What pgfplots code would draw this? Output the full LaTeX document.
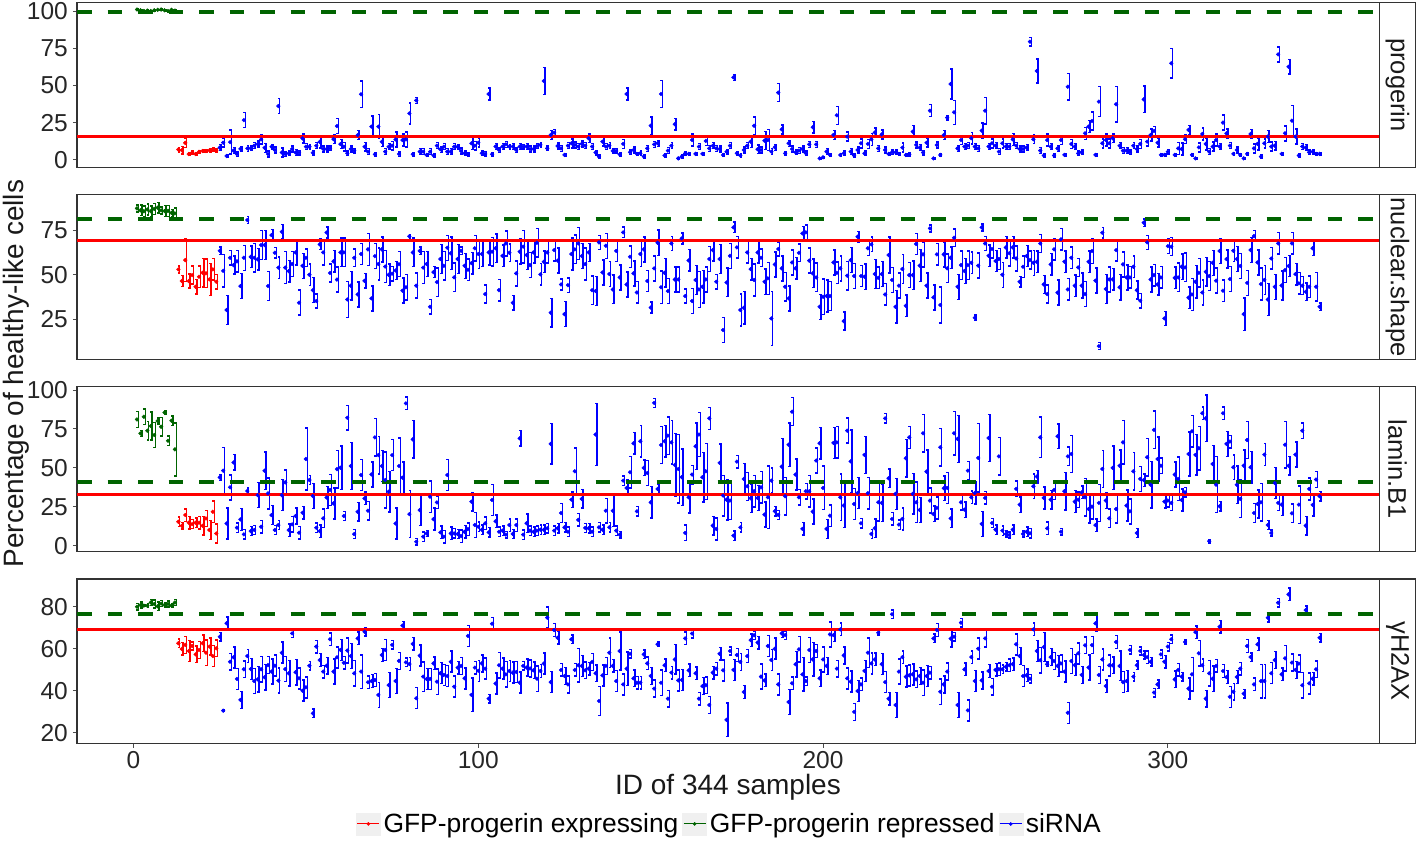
\documentclass[border=0pt]{standalone}
\usepackage{fontspec}
\setmainfont{Liberation Sans}
\usepackage{pgfplots}
\usepackage{pgfplotstable}
\pgfplotsset{compat=1.18}
\definecolor{dgreen}{HTML}{006400}

% ---------- panel 1: progerin ----------
\pgfplotstableread[row sep=\\]{v e\\ 101 0.5\\ 100.5 0.5\\ 100 0.4\\ 100.3 0.5\\ 100 0.4\\ 100.5 0.5\\ 100.8 0.4\\ 101 0.5\\ 100.5 0.4\\ 100 0.5\\ 100.8 0.4\\ 100.3 0.5\\}\pAg
\pgfplotstableread[row sep=\\]{v e\\ 7 1.5\\ 6.5 2.5\\ 11.5 3\\ 4 1\\ 5 1\\ 4 0.8\\ 5.5 1\\ 6 1\\ 6 1\\ 6.5 1\\ 7 1\\ 6.5 1\\}\pAr
\pgfplotstableread[row sep=\\]{v e\\
8.3 2\\ 11.6 3\\ 2.7 1\\ 12 8\\ 6.3 2\\ 4.0 1.5\\ 7.4 1.5\\ 26.8 5\\ 7.8 2\\ 7.8 1.5\\
9.6 2\\ 10.7 2\\ 13.8 3\\ 8.2 3\\ 4 2\\ 8.9 1.5\\ 6.7 2\\ 36.2 5\\ 5 3\\ 4 1.5\\
4.5 1.5\\ 7.4 2\\ 5 2\\ 5 1.5\\ 14.5 3\\ 8.9 2\\ 8.9 1.5\\ 4.8 1.5\\ 9.6 2\\ 12.2 4\\
7.4 2\\ 7.4 2\\ 7.8 1.5\\ 14 3\\ 22.8 5\\ 10.7 3\\ 8.9 3\\ 4.5 1.5\\ 7.4 2\\ 6.3 1.5\\
16.7 3\\ 44.1 9\\ 8.9 3\\ 5.6 2\\ 22.4 7\\ 3.8 1\\ 22.4 8\\ 12.2 3\\ 5.6 2\\ 8.9 2\\
9.6 3\\ 13.8 5\\ 4 1.5\\ 13.4 4\\ 13.8 5\\ 31.3 7\\ 3.8 1\\ 40 2\\ 5.6 2\\ 5.6 2\\
3.4 1\\ 5.6 2\\ 3 1\\ 9.6 2\\ 7.2 2\\ 8.9 2\\ 5.6 2\\ 5.6 2\\ 8.9 2\\ 8.9 1.5\\
6 2\\ 4.5 1.5\\ 3.8 1\\ 11.2 4\\ 9.6 3\\
11.6 3\\ 4.5 1.5\\ 4.1 1.5\\ 44.3 4\\ 3.8 1\\ 9 2\\ 6.7 1.5\\ 9 2\\ 10.5 2\\ 9 1.5\\
9 2\\ 6.7 1.5\\ 9 2\\ 9 1.5\\ 9 2\\ 7.4 2\\ 7.4 2\\ 9.4 1.5\\ 10.1 1.5\\ 53 9\\
7.8 1.5\\ 16.8 3\\ 18.4 2\\ 9.4 2\\ 7.8 2\\ 3.4 1\\ 9.6 2\\ 11.2 3\\ 10.1 2\\ 9 2\\
10.8 2\\ 9.6 2\\ 14.6 3\\ 9 2\\ 5 1.5\\ 2.3 1\\ 12.3 3\\ 9 2\\ 9.6 2\\ 6.1 1.5\\
6.1 1.5\\ 3.8 1\\ 10.8 3\\ 44.3 4\\ 5.2 1.5\\ 6.7 2\\ 4.1 1\\ 4.5 1.5\\ 2.3 1\\ 7.8 2\\
23 6\\ 10.5 2\\ 11.2 2\\ 44.3 9\\ 3 1\\ 6.3 2\\ 9.6 2\\ 24 4\\ 1.1 0.5\\ 2.3 1\\
4.5 1\\ 4.1 1\\ 13.4 4\\ 4.1 1\\ 9 2\\ 4.1 1\\ 12.8 3\\ 7.8 2\\ 9.6 2\\ 7.8 2\\
7.4 2\\ 3.4 1\\ 5.6 1.5\\ 9.6 2\\ 55.5 2\\ 4.5 1\\ 3 1\\ 6.7 2\\ 9.6 2\\ 12.3 4\\
23 6\\ 7.2 3\\ 6.7 2\\ 13 6\\ 13.4 7\\ 5.6 2\\ 8.5 2\\ 45.2 6\\ 20.6 3\\ 4.5 1\\
11.2 2\\ 7.4 2\\ 5.2 1.5\\ 6.3 2\\ 7.4 2\\ 4.5 1.5\\ 10.5 2\\ 22 4\\ 10.5 2\\ 1.1 0.5\\
1.8 0.5\\ 5.6 2\\ 3.4 1\\ 16.8 3\\ 30 6\\ 3.4 1\\ 4.5 1.5\\ 15.7 3\\ 5.6 2\\ 3 1\\
6.7 2\\ 11.2 3\\ 4.5 1.5\\ 10.8 3\\ 13.9 4\\ 18.4 3\\ 7.8 2\\ 17.2 3\\ 6.7 2\\ 4.1 1\\
5.2 1.5\\ 5.2 1.5\\ 4.1 1\\ 8.3 3\\ 3.4 1\\ 3.8 1\\ 19 4\\ 10.1 2\\ 8.3 2\\ 5 1.5\\
11.6 3\\ 33.1 4\\ 1.1 0.5\\ 10.1 2\\ 3.4 1\\ 16.8 3\\ 28.4 1.5\\ 51 10\\ 32 8\\ 7.8 2\\
13.4 3\\ 9 2\\ 9.6 2\\ 14.6 4\\ 9 2\\ 7.8 2\\ 19.7 5\\ 33.1 9\\ 9 2\\ 11.2 3\\
9.6 2\\ 5.6 2\\ 11.2 3\\ 9 2\\ 9 2\\ 13.9 4\\ 9.6 2\\ 7.4 2\\ 7.4 2\\ 8.3 2\\
79.4 3\\ 13.9 3\\ 59.7 8\\ 6.3 2\\ 3 1\\ 13.4 4\\ 9 2\\ 3 1\\ 7.8 2\\ 13.4 3\\
3.4 1\\ 49.2 9\\ 10.8 3\\ 9 2\\ 4.5 1.5\\ 5.2 1.5\\ 17.9 4\\ 22.4 4\\ 26.2 6\\ 3.4 1\\
39.2 10\\ 11.2 3\\ 13.4 4\\
11.2 3\\ 14.6 3\\ 37.4 12\\ 9.6 2\\ 6.3 2\\ 6.3 2\\ 5.2 1.5\\ 9.6 2\\ 7.4 2\\ 10.8 3\\
40.7 9\\ 12.3 3\\ 16.8 4\\ 19.5 3\\ 11.6 3\\ 3.4 1\\ 3.4 1\\ 5.6 1.5\\ 64.9 10\\ 3.4 1\\
7.8 4\\ 7.4 4\\ 13.9 3\\ 20.2 3\\ 3.4 1\\ 1.1 0.5\\ 8.5 3\\ 17.5 4\\ 10.8 4\\ 5.6 2\\
9 3\\ 13.4 4\\ 9 2\\ 25.1 5\\ 17.9 3\\ 9.6 2\\ 4.1 1\\ 6.7 2\\ 3.4 1\\ 1.1 0.5\\
4.1 1\\ 17.5 3\\ 7.8 3\\ 10.8 4\\ 2.3 1\\ 11.2 3\\ 15.7 4\\ 9 3\\ 9.6 3\\ 70.9 5\\
4.1 1\\ 17.9 5\\ 62.6 5\\ 26.4 10\\ 15.7 5\\ 3 1\\ 9 2\\ 8.3 2\\ 5.2 1.5\\ 5.6 1.5\\
4.1 1\\ 4.1 1\\
}\pAb

% ---------- panel 2: nuclear.shape ----------
\pgfplotstableread[row sep=\\]{v e\\ 87.1 2\\ 86 3\\ 85.5 3\\ 86.5 3\\ 85.5 3\\ 86.8 3\\ 87.5 3\\ 86 2\\ 85.6 3\\ 85.7 3\\ 84.6 2\\ 84.3 3\\}\pBg
\pgfplotstableread[row sep=\\]{v e\\ 53 2\\ 46.5 3\\ 58.2 12\\ 46.5 4\\ 49.8 5\\ 43.3 4\\ 48.9 6\\ 51.1 8\\ 50.8 8\\ 47.4 9\\ 53 6\\ 46.1 4\\}\pBr
\pgfplotstableread[row sep=\\]{v e\\
63.4 2\\ 52.2 9\\ 30.3 8\\ 59.5 4\\ 55.4 5\\ 57.5 6\\ 43.7 7\\ 59.5 7\\ 80.6 2\\ 60 6\\
59.5 8\\ 58.6 6\\ 66.6 8\\ 66.6 8\\ 43.7 8\\ 72.2 3\\ 62.3 3\\ 54 6\\ 74 4\\ 54 9\\
52 6\\ 56 7\\ 62.5 7\\ 34.4 7\\ 55 7\\ 59.5 5\\ 50 6\\ 41.4 7\\ 35.3 4\\ 67 3\\
62.5 7\\ 73.6 3\\ 51 5\\ 57.5 6\\ 47.3 7\\ 62.5 8\\ 62.5 8\\ 36.2 10\\ 43.9 8\\ 59.5 5\\
39 7\\ 61.6 6\\ 46.6 4\\ 64.2 9\\ 36.8 7\\ 60.4 7\\ 56 9\\ 64.2 7\\ 54.6 9\\ 50 6\\
50.6 4\\ 52.4 5\\ 55.9 7\\ 41.1 7\\ 43 7\\ 71.5 1\\ 62.5 8\\ 43.9 7\\ 63.4 2\\ 54 9\\
56 7\\ 32.1 4\\ 51.5 3\\ 45.9 8\\ 58.8 8\\ 55 8\\ 65.1 7\\ 62 9\\ 48.6 8\\ 58.8 8\\
63.4 2\\ 55 7\\ 52.8 6\\ 56.5 6\\ 64.8 7\\ 61.6 8\\
61.6 7\\ 39.2 5\\ 62.5 7\\ 62.9 8\\ 64.8 8\\ 41.4 6\\ 60.6 6\\ 67.5 7\\ 62.3 5\\ 34.4 4\\
50.8 7\\ 62.9 7\\ 65.7 9\\ 61 8\\ 55.4 7\\ 62.5 6\\ 67.9 8\\ 50.2 6\\ 57.3 6\\ 62.5 6\\
28.8 8\\ 63.8 6\\ 57.9 7\\ 44.6 3\\ 28 7\\ 44.2 4\\ 61.6 9\\ 64.2 8\\ 67.5 9\\ 60.5 7\\
56 9\\ 62.5 5\\ 41.4 8\\ 40.9 8\\ 68.1 4\\ 51.3 7\\ 66.2 7\\ 50.4 7\\ 41.8 8\\ 63.3 6\\
48.5 7\\ 73.7 3\\ 44.6 7\\ 60.1 6\\ 50.8 7\\ 40.1 6\\ 61.6 7\\ 64.2 7\\ 46.5 6\\ 31.7 3\\
53.6 7\\ 67.9 7\\ 43 9\\ 51.1 8\\ 40.9 7\\ 67.5 4\\ 47.4 7\\ 47.4 7\\ 70.3 3\\ 38.1 4\\
58 6\\
35.3 7\\ 47.1 8\\ 41.8 10\\ 43.3 9\\ 47.4 7\\ 58.8 7\\ 63.8 6\\ 46.1 4\\ 58.8 8\\ 19.1 7\\
45.7 8\\ 60.6 7\\ 76.5 3\\ 65.3 6\\ 30.3 9\\ 31.6 9\\ 62.5 6\\ 53.2 6\\ 47.1 9\\ 62.5 6\\
59.5 5\\ 46.1 7\\ 48 9\\ 25.6 15\\ 55.8 7\\ 64.4 4\\ 53.6 7\\ 43.3 8\\ 36.8 7\\ 56.9 7\\
53.6 6\\ 62.3 5\\ 73.1 4\\ 73.7 4\\ 57.9 7\\ 50.8 8\\ 48.5 8\\ 32.1 7\\ 37.7 10\\ 38.1 9\\
38.1 8\\ 56.9 7\\ 51.1 6\\ 53.6 7\\ 24.1 5\\ 49.5 8\\ 58.2 7\\ 49.3 7\\ 71.3 3\\ 49.3 6\\
48.9 7\\ 64.8 4\\ 67 4\\ 50.4 8\\ 48.3 6\\ 50.4 7\\ 39 6\\ 61 10\\ 47.1 7\\ 32.1 9\\
43.9 7\\ 53.2 8\\ 32.7 6\\ 49.8 7\\ 49.8 8\\ 67.2 6\\ 55.1 9\\ 61.4 7\\ 43.9 7\\ 75.9 2\\
37.4 7\\ 61.4 6\\ 33.1 10\\ 61.4 7\\ 53.6 8\\ 59.5 6\\ 70.7 5\\ 43.3 7\\ 55.4 8\\ 52.1 7\\
55.4 8\\ 56.7 6\\ 26 1.5\\ 55.1 7\\ 76.5 2\\ 67.5 4\\ 60.6 6\\ 64.4 5\\ 57.7 6\\ 58.8 6\\
50 7\\
65.3 6\\ 62 7\\ 65.3 6\\ 59.1 7\\ 46.1 3\\ 54.5 6\\ 60.5 6\\ 58.2 5\\ 56.7 7\\ 57.3 6\\
67.5 5\\ 44.6 5\\ 39.2 5\\ 55.8 6\\ 64.2 6\\ 40 7\\ 69.8 6\\ 57.3 6\\ 41.8 6\\ 59.5 6\\
43.9 6\\ 54.1 5\\ 43.9 7\\ 39.2 7\\ 57.3 6\\ 63.3 7\\ 46.7 7\\ 10.1 2\\ 73.5 3\\ 42 8\\
47.4 7\\ 47.4 6\\ 63.8 6\\ 43 7\\ 55.8 7\\ 48.5 7\\ 48.5 6\\ 54.5 6\\ 41.4 5\\ 35.5 4\\
79.1 2\\ 68.1 4\\ 47.4 7\\ 49.8 6\\ 44.6 6\\ 48.5 6\\ 25.6 4\\ 66 4\\ 65.7 5\\ 48.3 6\\
48.5 8\\ 54.5 7\\ 54.1 8\\ 37.2 6\\ 39 9\\ 46.1 9\\ 51.1 8\\ 40.1 7\\ 51.7 8\\ 49.3 8\\
56.7 7\\ 46.7 7\\ 63.3 7\\ 41.1 6\\ 58.8 5\\ 47.6 7\\ 63.4 6\\ 58.8 7\\ 54.9 7\\ 28 9\\
45.5 7\\ 63.8 7\\ 71.6 3\\ 56.9 7\\ 44.8 9\\ 47.1 8\\ 36.2 9\\ 59.1 6\\ 43.3 7\\ 67.5 6\\
44 8\\
52.6 7\\ 54.9 6\\ 67.5 6\\ 50.4 6\\ 45.2 6\\ 43.9 5\\ 40.5 5\\ 43.3 6\\ 64.8 4\\ 43.3 8\\
32.1 2\\
}\pBb

% ---------- panel 3: lamin.B1 ----------
\pgfplotstableread[row sep=\\]{v e\\ 81.1 5\\ 72.1 2\\ 82.8 5\\ 73.9 6\\ 76.9 9\\ 71.1 8\\ 80.1 2\\ 76.4 6\\ 85.6 1\\ 67.4 3\\ 80.3 3\\ 61.9 17\\}\pCg
\pgfplotstableread[row sep=\\]{v e\\ 15.4 3\\ 12.8 2\\ 19.7 4\\ 14.8 4\\ 13.9 3\\ 14.8 3\\ 14.8 4\\ 12.8 6\\ 17.5 5\\ 10.1 6\\ 21.8 7\\ 7.9 6\\}\pCr
\pgfplotstableread[row sep=\\]{v e\\
43.9 2\\ 48.2 15\\ 14.3 10\\ 37.5 8\\ 53.5 5\\ 11.6 3\\ 16.9 7\\ 7.3 3\\ 35.1 2\\ 9.4 3\\
10.1 3\\ 32.5 8\\ 12.2 4\\ 48.2 12\\ 33.6 10\\ 19.7 6\\ 10.1 3\\ 13.3 3\\ 32.5 10\\ 40.7 8\\
10.1 4\\ 13.7 5\\ 19.1 5\\ 8.4 4\\ 21.2 4\\ 55.7 20\\ 42.2 3\\ 31.9 8\\ 11.6 3\\ 9.4 4\\
17.6 6\\ 31 7\\ 35.8 10\\ 27.2 10\\ 49.2 12\\ 50.1 14\\ 19.1 3\\ 82.2 8\\ 51.2 15\\ 7.5 3\\
21.8 6\\ 45.4 10\\ 30.4 4\\ 22.5 6\\ 45.8 8\\ 69.6 12\\ 58.2 12\\ 51.2 10\\ 42.2 18\\ 34.7 13\\
58.2 10\\ 14.3 10\\ 51.2 18\\ 43.7 10\\ 91.4 4\\ 20.3 15\\ 68.3 12\\ 2.6 2\\ 22.9 10\\ 5.8 3\\
7.9 2\\ 31.5 10\\ 17.1 7\\ 27.8 4\\ 8.6 4\\ 5.8 4\\ 45.4 10\\ 7.9 4\\ 7.9 3\\ 7.5 3\\
6.2 4\\ 8.9 4\\ 10.7 4\\ 28.3 6\\ 13.3 8\\ 12.2 3\\
10.3 3\\ 14.4 4\\ 8.6 3\\ 29.4 10\\ 15.7 4\\ 9 3\\ 9.7 3\\ 7.1 2\\ 13.3 4\\ 7.6 3\\
13.3 4\\ 69 5\\ 7.1 3\\ 14.4 6\\ 9.7 3\\ 9 3\\ 9.7 3\\ 10.3 3\\ 10.3 3\\ 11.2 3\\
65.4 13\\ 9.7 3\\ 11.2 3\\ 21 6\\ 11.8 3\\ 9 3\\ 29.6 5\\ 47.8 15\\ 16.6 4\\ 30.1 6\\
11.4 3\\ 11.2 3\\ 9 3\\ 71.4 20\\ 11.8 3\\ 10.3 3\\ 22.5 8\\ 11.8 3\\ 22.5 10\\ 9.7 3\\
7.1 2\\ 41.8 3\\ 37.1 5\\ 47.2 10\\ 65.8 7\\ 22.1 3\\ 67.1 10\\ 50 5\\ 46.7 8\\ 27.9 10\\
91.7 3\\ 36.5 3\\ 64.7 12\\ 67.1 10\\ 70.7 12\\ 66.4 14\\ 51.9 20\\ 49.3 22\\ 44 18\\ 8.2 5\\
31.1 10\\ 45.7 6\\ 63.9 15\\ 71.4 14\\ 44 16\\ 47.8 18\\ 81.8 7\\ 12.9 6\\ 10.8 7\\ 53.2 12\\
32.2 13\\ 29.6 13\\ 29 12\\ 6.5 3\\ 54 4\\ 11.8 3\\ 42.9 10\\ 38.2 9\\ 30.5 9\\ 35 10\\
30.7 8\\ 37.5 10\\ 20 8\\ 31.1 20\\ 41.8 8\\ 22.1 3\\ 19.8 3\\ 50.8 18\\ 31.8 12\\ 64.9 14\\
86.1 9\\ 45.7 10\\ 31.1 5\\ 10.8 4\\ 35 5\\ 35 10\\ 21.9 8\\ 54.7 8\\ 65.8 10\\ 37.1 14\\
10.8 6\\ 19.3 7\\ 66 10\\ 66.4 10\\ 31.1 15\\ 25.8 14\\ 73.9 8\\ 54.2 20\\ 26.8 10\\ 33.9 10\\
14.4 3\\ 58.3 12\\ 33.7 10\\ 7.6 3\\ 11.2 6\\ 27.9 12\\ 27.5 12\\ 81.8 3\\ 43.3 6\\ 17.2 4\\
33.3 10\\ 13.6 3\\ 17.2 7\\ 56.2 12\\ 69.6 7\\ 33.3 13\\ 27.9 13\\ 23 8\\ 72.2 12\\ 47.6 14\\
29 8\\
20.4 5\\ 24.3 7\\ 63.2 12\\ 36.9 8\\ 37.1 10\\ 17.6 6\\ 72.2 14\\ 68.6 15\\ 27.9 5\\ 23.2 5\\
48.2 6\\ 31.1 4\\ 33.9 7\\ 56.4 22\\ 14 8\\ 30.7 4\\ 69.2 15\\ 14.6 3\\ 10.3 3\\ 57.4 12\\
9.7 3\\ 7.6 2\\ 6.9 2\\ 10.3 3\\ 36.5 5\\ 26.4 5\\ 7.6 2\\ 9 3\\ 8 3\\ 38.2 8\\
44.4 4\\ 69.6 13\\ 30.7 7\\ 11.2 4\\ 29.6 6\\ 35.8 6\\ 70.3 8\\ 9 2\\ 35 12\\ 57.4 6\\
58.9 12\\ 28.3 7\\ 29.6 5\\ 34.3 4\\ 31.1 12\\ 23.6 9\\ 25.1 8\\ 13.3 4\\ 27.5 12\\ 49.3 12\\
29 5\\ 17.6 6\\ 50 14\\ 23.6 9\\ 51.4 10\\ 66.4 14\\ 25.8 10\\ 22.1 8\\ 47.8 12\\ 8.2 3\\
42.9 8\\ 42.2 4\\ 56.8 12\\ 39.2 15\\ 74.4 12\\ 55.7 14\\ 51.4 5\\ 28.3 4\\ 29 4\\ 27.5 5\\
45.7 8\\ 42.9 14\\ 29.4 7\\ 34.3 3\\ 58.9 14\\ 73.5 10\\ 58.3 13\\ 62.6 14\\ 85.1 4\\ 81.8 15\\
2.9 1\\ 52.5 12\\ 39.2 18\\ 25.3 3\\ 85.1 4\\ 65.4 8\\ 66.9 4\\ 50.4 8\\ 39.2 12\\ 30.1 12\\
51.4 10\\ 67.9 12\\ 50.4 10\\ 21 6\\ 26.8 9\\ 27.9 12\\ 58.5 7\\ 13.3 3\\ 8.2 2\\ 40.3 10\\
27.5 5\\ 26.4 7\\ 64.9 15\\ 51.4 6\\ 20.8 6\\ 58.5 8\\ 26.4 12\\ 73.9 5\\ 12.9 6\\ 36.5 7\\
26.2 7\\ 42.5 5\\ 31.8 3\\
}\pCb

% ---------- panel 4: gammaH2AX ----------
\pgfplotstableread[row sep=\\]{v e\\ 80 1.5\\ 80.8 1.5\\ 80.5 0.5\\ 80.5 1\\ 82 1.5\\ 81.3 2\\ 80.2 2\\ 81.5 1.5\\ 80.8 1\\ 81.3 1.5\\ 80.5 1\\ 82 1.5\\}\pDg
\pgfplotstableread[row sep=\\]{v e\\ 62.6 2\\ 59.9 3\\ 61.8 4\\ 58.9 5\\ 61.3 2\\ 57.3 4\\ 59.4 4\\ 62.6 4\\ 58.1 6\\ 61 4\\ 56.5 5\\ 60.2 4\\}\pDr
\pgfplotstableread[row sep=\\]{v e\\
65.7 2\\ 30.5 0.5\\ 72.1 3\\ 53.8 4\\ 55.9 5\\ 45.6 5\\ 35.6 4\\ 50.2 4\\ 56.5 3\\ 50.3 5\\
44.6 6\\ 45.4 6\\ 50.2 6\\ 46.4 6\\ 52.2 4\\ 49.1 6\\ 51.9 5\\ 44.8 6\\ 58.1 5\\ 50.3 6\\
48.3 6\\ 67.3 2\\ 48.8 6\\ 45.9 5\\ 40 5\\ 41.6 5\\ 51.9 2\\ 29.2 2\\ 61 3\\ 54.6 3\\
49.1 3\\ 51.9 4\\ 64.5 3\\ 49.1 6\\ 55.9 5\\ 59.4 5\\ 53.3 3\\ 59.1 6\\ 56.5 6\\ 48.3 6\\
64.9 3\\ 49.1 8\\ 68.1 2\\ 44 3\\ 44.6 3\\ 45.1 3\\ 38 6\\ 57 3\\ 59.4 5\\ 42.7 6\\
61.8 2\\ 44.6 6\\ 54.2 4\\ 71 2\\ 53.5 2\\ 52.7 3\\ 62.3 3\\ 36.4 5\\ 56.7 5\\ 46.7 7\\
45.6 5\\ 45.6 5\\ 53 3\\ 44.3 6\\ 48.3 5\\ 47.5 5\\ 47 5\\ 53.8 5\\ 41.9 5\\ 51 3\\
51.8 4\\ 45.9 5\\ 66.1 5\\ 38 8\\ 51 3\\ 49.5 5\\
53 4\\ 50.5 5\\ 36.2 2\\ 71.9 3\\ 43.4 5\\ 52.1 6\\ 50.5 5\\ 47.8 6\\ 49.4 5\\ 48.6 5\\
48.9 5\\ 43.8 5\\ 51.8 2\\ 51 4\\ 50.6 4\\ 49.7 4\\ 45.7 6\\ 49.4 3\\ 52.9 5\\ 74.8 5\\
44.1 5\\ 68.9 3\\ 65.2 3\\ 49.9 3\\ 47 4\\ 43 4\\ 64.5 2\\ 49.9 3\\ 52.1 8\\ 51.8 5\\
49.7 4\\ 50.5 3\\ 53.7 4\\ 48.3 4\\ 35.1 7\\ 47.3 5\\ 51.8 4\\ 58.1 7\\ 51.8 3\\ 44.6 5\\
58.9 9\\ 43 5\\ 50.5 8\\ 57.6 2\\ 45.9 4\\ 43.8 3\\ 43.8 3\\ 57.3 2\\ 53 3\\ 47 4\\
41 4\\ 62.1 1\\ 43.8 6\\ 52.1 3\\ 36.2 4\\ 48.6 3\\ 54.9 7\\ 44.9 5\\ 45.1 5\\ 64.9 3\\
49.7 3\\ 67.2 2\\ 48.3 3\\ 36.2 3\\ 42.2 4\\ 42.6 4\\ 33.2 4\\ 48.6 3\\ 50.5 3\\ 57.6 3\\
49.7 5\\ 26.1 8\\ 58.9 2\\ 49.9 5\\ 57 3\\ 53.7 4\\ 39.4 3\\ 56.5 3\\ 64.1 3\\ 66.4 2\\
62.9 3\\ 46.7 6\\ 44.9 3\\ 61.3 5\\ 54.6 5\\ 60 5\\ 43 5\\ 67.3 2\\ 66.5 2\\ 34.6 6\\
43.5 3\\ 52.6 6\\ 59.7 6\\ 47.8 8\\ 44.6 2\\ 59.4 6\\ 54.9 8\\ 58.9 3\\ 45.9 4\\ 54.9 6\\
51.8 4\\ 66.8 6\\ 66.5 3\\ 50.5 4\\ 69.2 3\\ 56.8 4\\ 45.9 5\\ 44.3 5\\ 29.9 4\\ 39.9 5\\
43 3\\ 49.4 5\\ 58.1 7\\ 53 5\\ 54.9 3\\ 67.6 1\\ 52.6 5\\ 44.1 5\\ 36.2 3\\ 76.4 2\\
33.2 6\\ 49.1 6\\ 56 3\\ 46.7 5\\ 47.3 5\\ 47.8 5\\ 45.4 4\\ 47 4\\ 43.8 6\\ 47 5\\
48.6 3\\
64.9 2\\ 68.9 3\\ 39.5 6\\ 43 4\\ 49.1 4\\ 64.8 4\\ 65.7 2\\ 33.2 6\\ 72.4 2\\ 50.2 3\\
30.6 5\\ 56 3\\ 44.6 5\\ 60 5\\ 44.9 4\\ 64.9 4\\ 49.4 3\\ 41.9 4\\ 49.9 3\\ 50.2 3\\
50.2 2\\ 51.4 2\\ 52.1 3\\ 52.6 3\\ 62.1 5\\ 56.5 4\\ 47 5\\ 47.3 3\\ 45.7 2\\ 69.2 3\\
58.9 5\\ 54.5 6\\ 60.8 7\\ 52.6 1\\ 56 4\\ 54.1 4\\ 51.8 5\\ 53 4\\ 49.1 5\\ 29.5 5\\
54.1 6\\ 52.2 5\\ 57.8 5\\ 47.5 4\\ 61.6 4\\ 51 6\\ 61.7 4\\ 72.1 4\\ 47.5 4\\ 54.9 5\\
42.2 3\\ 52.1 5\\ 52.1 4\\ 63.2 3\\ 51.8 7\\ 44.1 5\\ 44.6 5\\ 59.4 2\\ 46.7 2\\ 52.1 2\\
58.9 2\\ 57 2\\ 56 3\\ 53.8 2\\ 39.1 2\\ 43 2\\ 57.3 2\\ 53.8 3\\ 61 2\\ 64.5 2\\
45.4 4\\ 49.9 3\\ 46.7 2\\ 63.2 1\\ 41 5\\ 47.8 8\\ 67.9 3\\ 57.8 6\\ 52.1 3\\ 36.2 4\\
48.3 6\\ 45.7 6\\ 51.8 3\\ 70.5 3\\ 49.4 3\\ 46.5 3\\ 37.1 5\\ 39.5 4\\ 46.5 3\\ 50.5 3\\
38.6 2\\ 61.3 3\\ 56 2\\ 43 3\\ 62.1 3\\ 44.6 8\\ 44.6 8\\ 74.8 2\\ 48.3 5\\ 54.6 4\\
81.9 2\\ 47.8 3\\ 55.4 6\\ 85.9 3\\ 53.4 4\\ 49.9 4\\ 52.9 4\\ 42.6 6\\ 78.4 2\\ 43.5 5\\
45.7 3\\ 50.2 4\\ 65.2 2\\
}\pDb

\pgfplotsset{
  panel/.style={scale only axis, width=1302.5pt, height=164.6pt,
    xmin=-16.4, xmax=361.4, anchor=north west,
    axis line style={black!80, line width=1.1pt},
    tick align=outside, major tick length=4pt,
    tick style={black!70, line width=1pt}, tick pos=left,
    tick label style={font=\fontsize{24.5}{29}\selectfont, text=black!85},
    /pgf/number format/assume math mode=true,
    yticklabel style={inner sep=0pt, xshift=-5pt},
    xticklabel style={inner sep=0pt, yshift=-4pt},
    xtick=\empty},
  errs/.style={only marks, mark=*, mark size=1.9pt, color=#1,
    mark options={fill=#1, draw=#1},
    error bars/.cd, y dir=both, y explicit,
    draw error bar/.code 2 args={%
      \draw[draw=#1, line width=1.45pt, xshift=1.4pt] ##1 -- ##2 -- ++(-2.2pt,0pt) ##1 -- ++(-2.2pt,0pt);},
    /pgfplots/.cd},
  redline/.style={red, line width=3pt, forget plot},
  greenline/.style={dgreen, line width=4pt, dash pattern=on 14.5pt off 16pt, forget plot},
}

\newcommand{\strip}[2]{%
  \draw[fill=white, draw=black!80, line width=1.1pt] (1379.5pt,#1pt) rectangle (1415.5pt,#1pt-164.6pt);
  \node[rotate=-90, font=\fontsize{25.5}{30}\selectfont, text=black!90] at (1397.5pt,#1pt-82.3pt) {#2};}

\begin{document}
\begin{tikzpicture}
\useasboundingbox (0,0) rectangle (1418pt,841pt);

% panel 1
\begin{axis}[panel, at={(77pt,838.3pt)}, ymin=-4.9, ymax=105.6, ytick={0,25,50,75,100}]
\addplot[errs=red] table[x expr=\coordindex+13, y=v, y error=e] {\pAr};
\addplot[errs=dgreen] table[x expr=\coordindex+1, y=v, y error=e] {\pAg};
\addplot[errs=blue] table[x expr=\coordindex+25, y=v, y error=e] {\pAb};
\addplot[redline] coordinates {(-16.4,15.6) (361.4,15.6)};
\addplot[greenline] coordinates {(-16.4,99.6) (361.4,99.6)};
\end{axis}
\strip{838.3}{progerin}

% panel 2
\begin{axis}[panel, at={(77pt,646.2pt)}, ymin=2.7, ymax=94.7, ytick={25,50,75}]
\addplot[errs=red] table[x expr=\coordindex+13, y=v, y error=e] {\pBr};
\addplot[errs=dgreen] table[x expr=\coordindex+1, y=v, y error=e] {\pBg};
\addplot[errs=blue] table[x expr=\coordindex+25, y=v, y error=e] {\pBb};
\addplot[redline] coordinates {(-16.4,69.2) (361.4,69.2)};
\addplot[greenline] coordinates {(-16.4,81.2) (361.4,81.2)};
\end{axis}
\strip{646.2}{nuclear.shape}

% panel 3
\begin{axis}[panel, at={(77pt,454.1pt)}, ymin=-3.7, ymax=102, ytick={0,25,50,75,100}]
\addplot[errs=red] table[x expr=\coordindex+13, y=v, y error=e] {\pCr};
\addplot[errs=dgreen] table[x expr=\coordindex+1, y=v, y error=e] {\pCg};
\addplot[errs=blue] table[x expr=\coordindex+25, y=v, y error=e] {\pCb};
\addplot[redline] coordinates {(-16.4,33.0) (361.4,33.0)};
\addplot[greenline] coordinates {(-16.4,40.9) (361.4,40.9)};
\end{axis}
\strip{454.1}{lamin.B1}

% panel 4
\begin{axis}[panel, at={(77pt,262pt)}, ymin=14.8, ymax=93.2, ytick={20,40,60,80},
  xtick={0,100,200,300},
  legend columns=3,
  legend style={at={(0.5013,-0.488)}, anchor=center, draw=none, fill=none,
    font=\fontsize{26.4}{31}\selectfont, column sep=0pt,
    nodes={inner xsep=3pt, inner ysep=0pt},
    /tikz/every even column/.append style={column sep=1pt}}]
\addplot[errs=red, legend image code/.code={%
   \fill[black!6] (0pt,-11pt) rectangle (24pt,11pt);
   \draw[red, line width=1.1pt] (1pt,0pt) -- (23pt,0pt);
   \fill[red] (12pt,0pt) circle (1.6pt);}]
   table[x expr=\coordindex+13, y=v, y error=e] {\pDr};
\addlegendentry{GFP-progerin expressing}
\addplot[errs=dgreen, legend image code/.code={%
   \fill[black!6] (0pt,-11pt) rectangle (24pt,11pt);
   \draw[dgreen, line width=1.1pt] (1pt,0pt) -- (23pt,0pt);
   \fill[dgreen] (12pt,0pt) circle (1.6pt);}]
   table[x expr=\coordindex+1, y=v, y error=e] {\pDg};
\addlegendentry{GFP-progerin repressed}
\addplot[errs=blue, legend image code/.code={%
   \fill[black!6] (0pt,-11pt) rectangle (24pt,11pt);
   \draw[blue, line width=1.1pt] (1pt,0pt) -- (23pt,0pt);
   \fill[blue] (12pt,0pt) circle (1.6pt);}]
   table[x expr=\coordindex+25, y=v, y error=e] {\pDb};
\addlegendentry{siRNA}
\addplot[redline] coordinates {(-16.4,69.2) (361.4,69.2)};
\addplot[greenline] coordinates {(-16.4,76.4) (361.4,76.4)};
\end{axis}
\strip{262}{γH2AX}

\node[rotate=90, font=\fontsize{28}{33}\selectfont, text=black!90] at (16.5pt,467.5pt) {Percentage of healthy-like cells};
\node[font=\fontsize{28}{33}\selectfont, text=black!90] at (728pt,54pt) {ID of 344 samples};
\end{tikzpicture}
\end{document}
